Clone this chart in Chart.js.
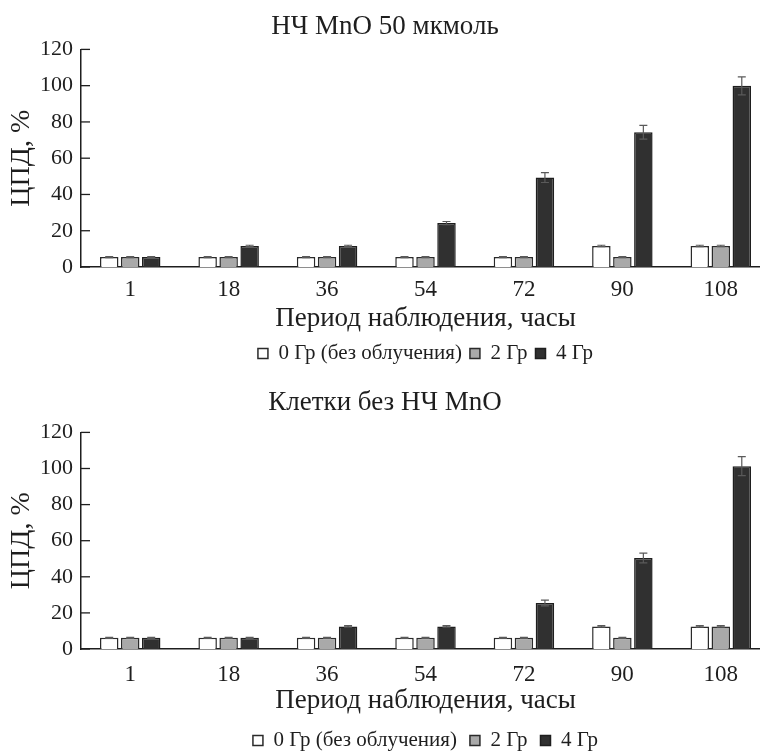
<!DOCTYPE html>
<html>
<head>
<meta charset="utf-8">
<script src="https://cdn.jsdelivr.net/npm/chart.js@4.4.0/dist/chart.umd.min.js"></script>
<style>
	body { margin: 0; background: #fff; overflow: hidden; width: 760px; height: 754px; position: relative; }
	canvas { position: absolute; left: 0; }
	#grafico_mno { top: 0; }
	#grafico_sem { top: 377px; }
</style>
</head>
<body>
<canvas id="grafico_mno" width="770" height="374"></canvas>
<canvas id="grafico_sem" width="770" height="384"></canvas>
<script>
// Период наблюдения, часы
var periodos = ["1", "18", "36", "54", "72", "90", "108"];
var doses = ["0 Гр (без облучения)", "2 Гр", "4 Гр"];

// НЧ MnO 50 мкмоль
var mno_0gr = [5.5, 5.5, 5.5, 5.5, 5.5, 11.6, 11.6];
var mno_2gr = [5.5, 5.5, 5.5, 5.5, 5.5, 5.5, 11.6];
var mno_4gr = [5.5, 11.6, 11.6, 24.2, 49.3, 74.3, 99.9];
var mno_0gr_erro = [0.3, 0.3, 0.3, 0.3, 0.3, 0.4, 0.4];
var mno_2gr_erro = [0.3, 0.3, 0.3, 0.3, 0.3, 0.3, 0.4];
var mno_4gr_erro = [0.3, 0.4, 0.4, 0.9, 2.7, 3.8, 5.0];

// Клетки без НЧ MnO
var sem_0gr = [6.2, 6.2, 6.2, 6.2, 6.2, 12.5, 12.5];
var sem_2gr = [6.2, 6.2, 6.2, 6.2, 6.2, 6.2, 12.5];
var sem_4gr = [6.2, 6.2, 12.5, 12.5, 25.5, 50.4, 101.3];
var sem_0gr_erro = [0.3, 0.3, 0.3, 0.3, 0.3, 0.4, 0.4];
var sem_2gr_erro = [0.3, 0.3, 0.3, 0.3, 0.3, 0.3, 0.4];
var sem_4gr_erro = [0.3, 0.3, 0.4, 0.4, 1.6, 2.7, 5.3];

var fonte = "'Liberation Serif', 'Times New Roman', serif";
var cor_texto = "#1e1e1e";

// barras de erro desenhadas depois das barras
var plugin_erros = {
	id: "erros",
	afterDatasetsDraw: function (chart) {
		var ctx = chart.ctx;
		var escala_y = chart.scales.y;
		chart.data.datasets.forEach(function (ds, i) {
			var meta = chart.getDatasetMeta(i);
			meta.data.forEach(function (barra, j) {
				var y1 = escala_y.getPixelForValue(ds.data[j] + ds.erros[j]);
				var y2 = escala_y.getPixelForValue(ds.data[j] - ds.erros[j]);
				ctx.save();
				ctx.strokeStyle = "#5a5a5a";
				ctx.lineWidth = 1.2;
				ctx.beginPath();
				ctx.moveTo(barra.x, y1);
				ctx.lineTo(barra.x, y2);
				ctx.moveTo(barra.x - 4, y1);
				ctx.lineTo(barra.x + 4, y1);
				ctx.moveTo(barra.x - 4, y2);
				ctx.lineTo(barra.x + 4, y2);
				ctx.stroke();
				ctx.restore();
			});
		});
	}
};

// marcas do eixo y viradas para dentro
var plugin_marcas = {
	id: "marcas",
	afterDraw: function (chart) {
		var ctx = chart.ctx;
		var escala_y = chart.scales.y;
		var esquerda = chart.chartArea.left;
		ctx.save();
		ctx.strokeStyle = cor_texto;
		ctx.lineWidth = 1.3;
		escala_y.ticks.forEach(function (t) {
			var y = escala_y.getPixelForValue(t.value);
			ctx.beginPath();
			ctx.moveTo(esquerda, y);
			ctx.lineTo(esquerda + 9, y);
			ctx.stroke();
		});
		ctx.restore();
	}
};

function criar_grafico(id_canvas, titulo, d0, d2, d4, e0, e2, e4, pad_titulo, pad_ticks_x, pad_legenda) {
	var canvas = document.getElementById(id_canvas);
	return new Chart(canvas, {
		type: "bar",
		data: {
			labels: periodos,
			datasets: [
				{ label: doses[0], data: d0, erros: e0, backgroundColor: "#ffffff", borderColor: "#2a2a2a", borderWidth: 1.5 },
				{ label: doses[1], data: d2, erros: e2, backgroundColor: "#a9a9a9", borderColor: "#2a2a2a", borderWidth: 1.5 },
				{ label: doses[2], data: d4, erros: e4, backgroundColor: "#303030", borderColor: "#1e1e1e", borderWidth: 1.5 }
			]
		},
		options: {
			responsive: false,
			animation: false,
			categoryPercentage: 0.64,
			barPercentage: 0.88,
			layout: { padding: 0 },
			plugins: {
				title: {
					display: true,
					text: titulo,
					color: cor_texto,
					font: { family: fonte, size: 27, weight: "normal" },
					padding: pad_titulo
				},
				legend: {
					position: "bottom",
					fullSize: false,
					labels: {
						color: cor_texto,
						font: { family: fonte, size: 21 },
						boxWidth: 10,
						boxHeight: 10,
						padding: pad_legenda
					}
				},
				tooltip: { enabled: false }
			},
			scales: {
				x: {
					grid: { display: false, drawTicks: false },
					border: { display: true, color: cor_texto, width: 1.5 },
					ticks: { color: cor_texto, font: { family: fonte, size: 23 }, padding: pad_ticks_x },
					title: {
						display: true,
						text: "Период наблюдения, часы",
						color: cor_texto,
						font: { family: fonte, size: 27 },
						padding: 0
					},
					afterFit: function (escala) { escala.height = 68; }
				},
				y: {
					min: 0,
					max: 120,
					grid: { display: false, drawTicks: false },
					border: { display: true, color: cor_texto, width: 1.5 },
					ticks: { stepSize: 20, color: cor_texto, font: { family: fonte, size: 22 }, padding: 8 },
					title: {
						display: true,
						text: "ЦПД, %",
						color: cor_texto,
						font: { family: fonte, size: 28 },
						padding: { top: 5, bottom: 0 }
					},
					afterFit: function (escala) { escala.width = 81; }
				}
			}
		},
		plugins: [plugin_erros, plugin_marcas]
	});
}

criar_grafico("grafico_mno", "НЧ MnO 50 мкмоль", mno_0gr, mno_2gr, mno_4gr,
	mno_0gr_erro, mno_2gr_erro, mno_4gr_erro, { top: 11, bottom: 6 }, 9, 8);
criar_grafico("grafico_sem", "Клетки без НЧ MnO", sem_0gr, sem_2gr, sem_4gr,
	sem_0gr_erro, sem_2gr_erro, sem_4gr_erro, { top: 10, bottom: 13 }, 12, 13);
</script>
</body>
</html>
